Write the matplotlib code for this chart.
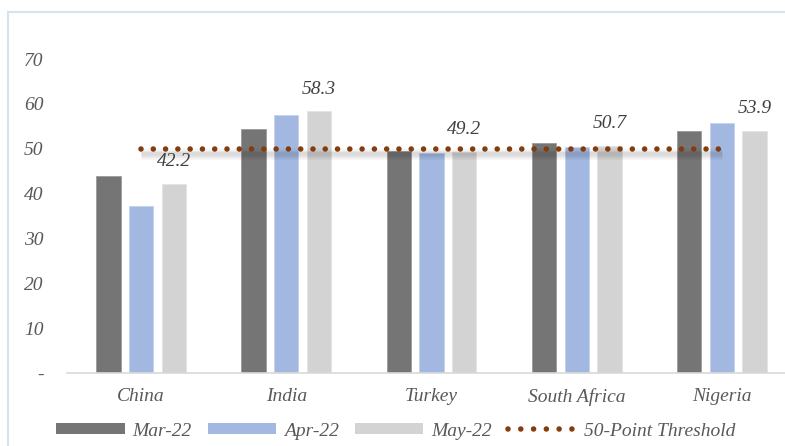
import matplotlib
matplotlib.use("Agg")
import matplotlib.pyplot as plt
import matplotlib.transforms as mtransforms
from matplotlib.patches import Patch, Rectangle
from matplotlib.lines import Line2D
import numpy as np

categories = ["China", "India", "Turkey", "South Africa", "Nigeria"]
mar22 = [43.9, 54.3, 49.5, 51.3, 54.0]
apr22 = [37.2, 57.5, 49.1, 50.3, 55.7]
may22 = [42.2, 58.3, 49.2, 50.7, 53.9]
threshold = [50, 50, 50, 50, 50]
series_names = ["Mar-22", "Apr-22", "May-22", "50-Point Threshold"]
y_ticks = [0, 10, 20, 30, 40, 50, 60, 70]
y_tick_labels = ["-", "10", "20", "30", "40", "50", "60", "70"]

c_mar = "#757575"
c_apr = "#a2b8e0"
c_may = "#d3d3d3"
c_dot = "#843c0c"
txt_gray = "#595959"
lbl_gray = "#404040"

W, H = 785, 446
fig = plt.figure(figsize=(W / 100, H / 100), dpi=100)
plt.rcParams['font.family'] = ['Liberation Serif', 'DejaVu Serif']

# chart border
fig.patches.append(Rectangle((8 / W, -0.1), 1.2, 1 - 12 / H + 0.1, transform=fig.transFigure,
                             fill=False, edgecolor="#d6e2f2", linewidth=1.5))

left, right = 67, 796
top, bottom = 59, 373
ax = fig.add_axes([left / W, 1 - bottom / H, (right - left) / W, (bottom - top) / H])
ax.patch.set_alpha(0)

x = np.arange(len(categories))
bw = 0.168
step = 0.225
ax.bar(x - step, mar22, bw, color=c_mar, edgecolor="#9a9a9a", linewidth=0.6, zorder=2)
ax.bar(x, apr22, bw, color=c_apr, edgecolor="#c3d2ee", linewidth=0.6, zorder=2)
ax.bar(x + step, may22, bw, color=c_may, edgecolor="#e4e4e4", linewidth=0.6, zorder=2)

# soft shadow under the threshold line
for off, lw, a in [(-5, 8, 0.04), (-5, 5, 0.05), (-5, 3, 0.05)]:
    tr = ax.transData + mtransforms.ScaledTranslation(0, off / 100, fig.dpi_scale_trans)
    ax.plot(x, threshold, color="black", lw=lw, alpha=a, transform=tr,
            solid_capstyle="butt", zorder=3)

lw_dot = 4.0
ax.plot(x, threshold, color=c_dot, lw=lw_dot, linestyle=(0, (0.001, 2.21)),
        dash_capstyle="round", zorder=4)

for xi, v in zip(x, may22):
    ax.annotate(f"{v:.1f}", (xi + step, v), xytext=(0, 10), textcoords="offset points",
                ha="center", va="bottom", fontsize=14, style="italic", color=lbl_gray)

ax.set_xlim(-0.51, 4.51)
ax.set_ylim(0, 70)
ax.set_yticks(y_ticks)
ax.set_yticklabels(y_tick_labels)
ax.set_xticks(x)
ax.set_xticklabels(categories)
for lab in ax.get_yticklabels() + ax.get_xticklabels():
    lab.set_fontstyle("italic")
    lab.set_color(txt_gray)
    lab.set_fontsize(14)
ax.tick_params(axis="y", length=0, pad=17)
ax.tick_params(axis="x", length=0, pad=11)
for s in ["top", "right", "left"]:
    ax.spines[s].set_visible(False)
ax.spines["bottom"].set_color("#d9d9d9")
ax.spines["bottom"].set_linewidth(1.2)

handles = [Patch(facecolor=c_mar, edgecolor="none"),
           Patch(facecolor=c_apr, edgecolor="none"),
           Patch(facecolor=c_may, edgecolor="none"),
           Line2D([0], [0], color=c_dot, lw=lw_dot, linestyle=(0, (0.001, 2.3)),
                  dash_capstyle="round")]
leg = fig.legend(handles, series_names, loc="center", bbox_to_anchor=(396 / W, 1 - 431 / H),
                 ncol=4, frameon=False, handlelength=3.5, handleheight=0.55,
                 handletextpad=0.4, columnspacing=0.85,
                 prop={"family": "Liberation Serif", "style": "italic", "size": 14})
for t in leg.get_texts():
    t.set_color(txt_gray)

fig.savefig("out.png", dpi=100)
